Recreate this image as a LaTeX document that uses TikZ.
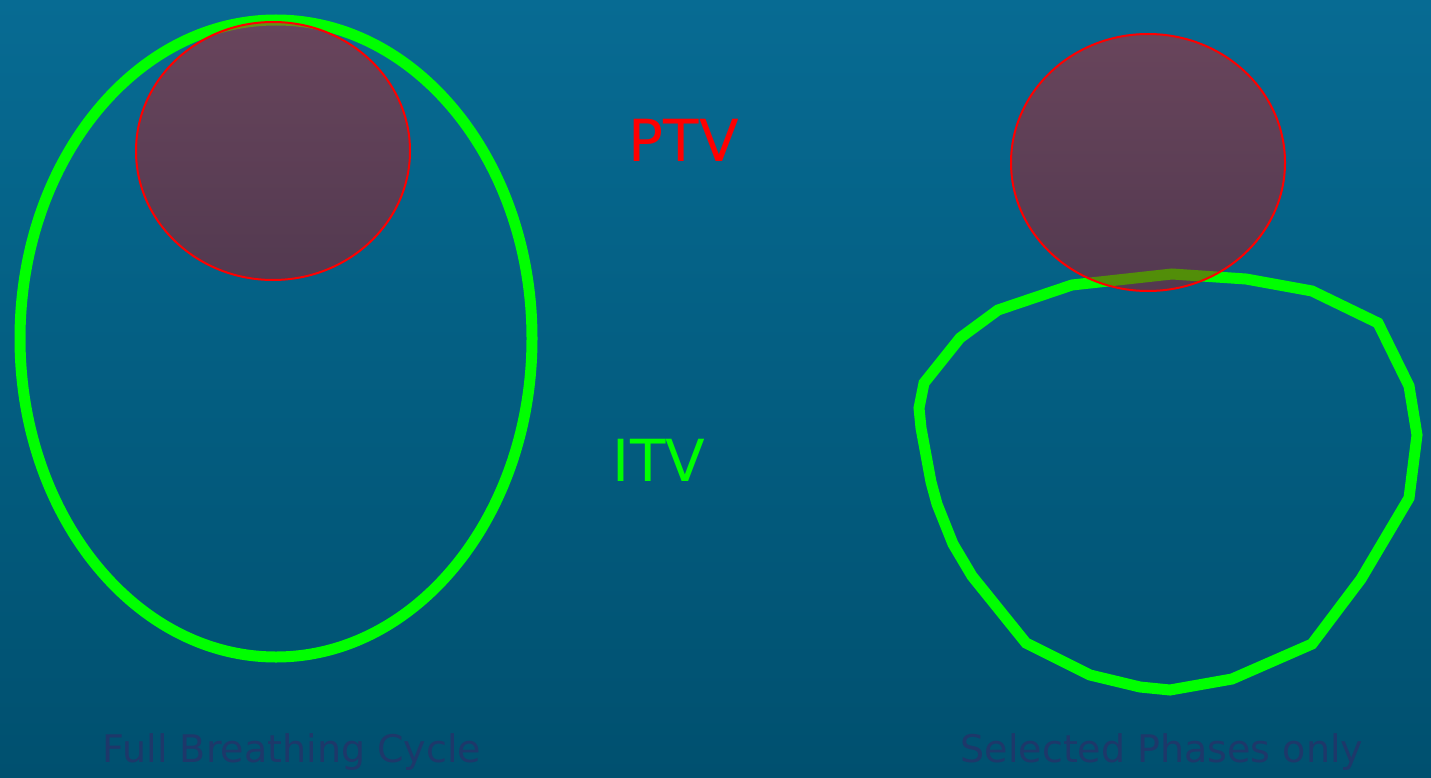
\documentclass[tikz,border=0pt]{standalone}
\usepackage{fontspec}
\setmainfont{DejaVu Sans}
\definecolor{bgtop}{RGB}{7,107,147}
\definecolor{bgbot}{RGB}{0,80,111}
\definecolor{itvgreen}{RGB}{0,255,0}
\definecolor{ptvtop}{RGB}{215,28,32}
\definecolor{ptvbot}{RGB}{172,14,20}
\definecolor{captionblue}{RGB}{30,56,106}
\tikzset{
  itvline/.style={draw=itvgreen, line width=11pt},
  ptvfillstyle/.style={top color=ptvtop, bottom color=ptvbot, opacity=0.47},
  ptvedge/.style={draw=red, line width=2pt},
  caption/.style={text=captionblue, font=\fontsize{38}{42}\selectfont, anchor=base},
  biglabel/.style={font=\fontsize{58}{62}\selectfont}
}
\begin{document}
\begin{tikzpicture}[x=1pt,y=-1pt]
  % background
  \shade[top color=bgtop, bottom color=bgbot] (0,0) rectangle (1431,778);
  \useasboundingbox (0,0) rectangle (1431,778);

  % full breathing cycle: ITV as an ellipse, PTV on top
  \draw[itvline] (276,338.5) ellipse [x radius=256, y radius=318.5];
  \shade[ptvfillstyle] (273,151) ellipse [x radius=137, y radius=129];
  \draw[ptvedge] (273,151) ellipse [x radius=137, y radius=129];

  % selected phases only: ITV outline, PTV on top
  \draw[itvline, line join=miter] (1172,274) -- (1246,279) -- (1312,291) -- (1378,323)
    -- (1409,386) -- (1417,435) -- (1409,498) -- (1361,579) -- (1312,644)
    -- (1232,679) -- (1170,690) -- (1140,687) -- (1090,675) -- (1026,643)
    -- (972,576) -- (953,544) -- (937,504) -- (931,482) -- (921,428)
    -- (919,408) -- (924,383) -- (960,338) -- (998,310) -- (1072,285) -- cycle;
  \shade[ptvfillstyle] (1148,162.5) ellipse [x radius=137, y radius=128.5];
  \draw[ptvedge] (1148,162.5) ellipse [x radius=137, y radius=128.5];

  % labels
  \node[biglabel, text=red] (ptv) at (684,140) {PTV};
  \node[biglabel, text=itvgreen] (itv) at (659,460) {ITV};
  \node[caption] (full) at (292,762) {Full Breathing Cycle};
  \node[caption] (sel) at (1162,762) {Selected Phases only};
\end{tikzpicture}
\end{document}
